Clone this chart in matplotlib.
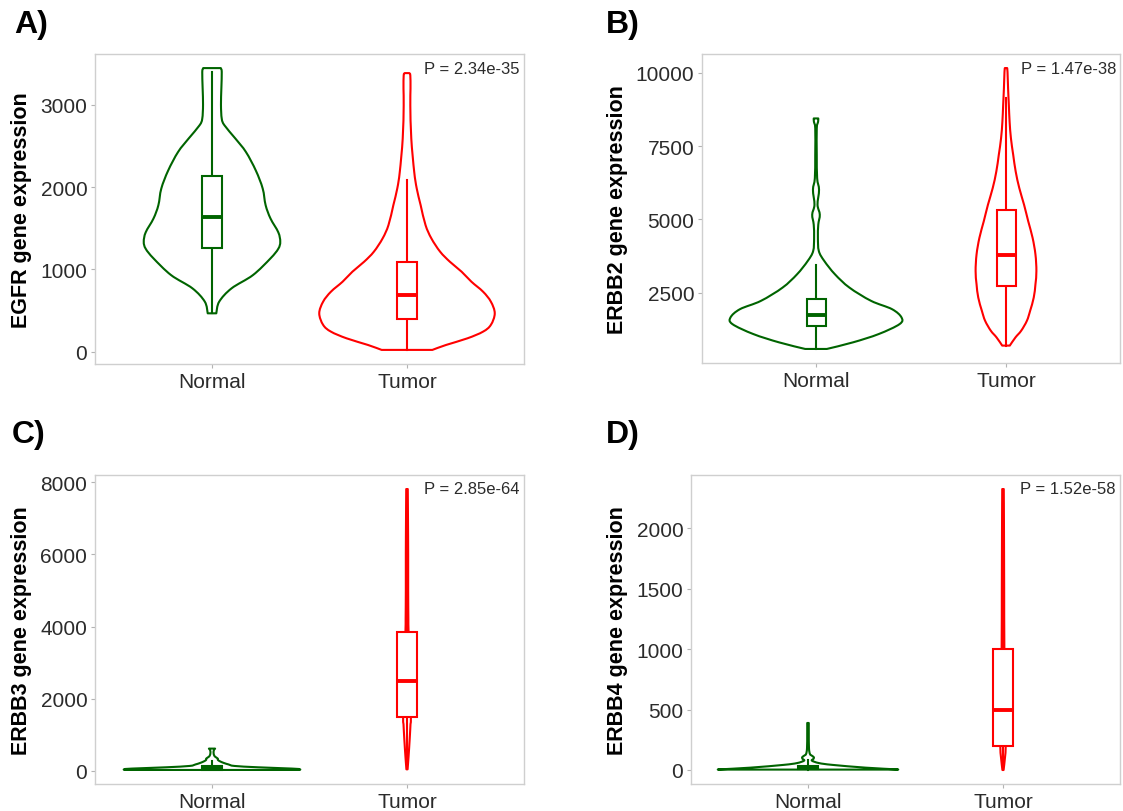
import numpy as np
import matplotlib
matplotlib.use("Agg")
import matplotlib.pyplot as plt
from matplotlib.patches import Rectangle, PathPatch
from matplotlib.path import Path

plt.rcParams["font.family"] = ["Liberation Sans", "DejaVu Sans"]

GROUPS = ["Normal", "Tumor"]
COLORS = ["#006400", "#FF0000"]

# violin outlines: expression level -> half width (x units)
EGFR_N_Y = [465, 607, 768, 930, 1133, 1250, 1335, 1450, 1618, 1780, 1982, 2200,
            2427, 2590, 2751, 2832, 3000, 3200, 3400, 3447]
EGFR_N_W = [0.022, 0.037, 0.10, 0.21, 0.30, 0.34, 0.35, 0.34, 0.30, 0.275, 0.26,
            0.225, 0.174, 0.12, 0.064, 0.05, 0.046, 0.048, 0.05, 0.045]
EGFR_T_Y = [20, 80, 161, 242, 324, 465, 607, 728, 850, 971, 1092, 1214, 1376,
            1538, 1780, 1982, 2185, 2589, 2993, 3196, 3358, 3386]
EGFR_T_W = [0.13, 0.20, 0.31, 0.39, 0.43, 0.45, 0.43, 0.39, 0.33, 0.28, 0.22, 0.17,
            0.125, 0.095, 0.07, 0.05, 0.037, 0.022, 0.017, 0.018, 0.017, 0.012]

ERBB2_N_Y = [574, 800, 1083, 1423, 1650, 1933, 2216, 2669, 3122, 3575, 3915, 4368,
             4821, 5161, 5500, 6010, 6407, 7200, 8106, 8333, 8446]
ERBB2_N_W = [0.057, 0.195, 0.33, 0.44, 0.45, 0.40, 0.29, 0.176, 0.10, 0.044, 0.015,
             0.01, 0.012, 0.02, 0.008, 0.016, 0.006, 0.004, 0.004, 0.011, 0.012]
ERBB2_T_Y = [689, 970, 1197, 1537, 1876, 2329, 2782, 3235, 3801, 4368, 4934, 5500,
             6067, 6633, 7200, 7766, 8333, 8899, 9465, 10031, 10167]
ERBB2_T_W = [0.02, 0.05, 0.08, 0.11, 0.127, 0.146, 0.155, 0.16, 0.155, 0.14, 0.117,
             0.095, 0.07, 0.051, 0.038, 0.026, 0.019, 0.015, 0.011, 0.008, 0.006]

ERBB3_N_Y = [28, 47, 66, 102, 139, 180, 223, 270, 308, 340, 380, 420, 500, 580, 619]
ERBB3_N_W = [0.45, 0.45, 0.41, 0.235, 0.115, 0.085, 0.06, 0.04, 0.03, 0.03, 0.02,
             0.012, 0.008, 0.01, 0.016]
ERBB3_T_Y = [46, 400, 900, 1300, 1505, 2500, 3848, 4200, 5000, 6000, 7000, 7806]
ERBB3_T_W = [0.003, 0.008, 0.014, 0.018, 0.02, 0.015, 0.008, 0.007, 0.006, 0.006,
             0.005, 0.004]

ERBB4_N_Y = [3, 5, 19, 42, 57, 77, 92, 105, 118, 132, 180, 300, 389]
ERBB4_N_W = [0.45, 0.45, 0.296, 0.125, 0.056, 0.02, 0.028, 0.03, 0.02, 0.01, 0.005,
             0.004, 0.004]
ERBB4_T_Y = [0, 100, 200, 400, 1000, 1500, 2000, 2326]
ERBB4_T_W = [0.003, 0.01, 0.014, 0.012, 0.007, 0.006, 0.005, 0.004]

# box stats: whisker low, q1, median, q3, whisker high
EGFR_BOX = [[465, 1254, 1634, 2131, 3398], [20, 396, 687, 1084, 2091]]
ERBB2_BOX = [[574, 1368, 1742, 2296, 3428], [689, 2727, 3791, 5310, 9150]]
ERBB3_BOX = [[28, 30, 70, 130, 280], [46, 1505, 2491, 3848, 7360]]
ERBB4_BOX = [[3, 5, 15, 36, 80], [0, 201, 497, 1001, 2200]]

GENES = ["EGFR", "ERBB2", "ERBB3", "ERBB4"]
PVALUES = ["2.34e-35", "1.47e-38", "2.85e-64", "1.52e-58"]
YTICKS = [[0, 1000, 2000, 3000], [2500, 5000, 7500, 10000],
          [0, 2000, 4000, 6000, 8000], [0, 500, 1000, 1500, 2000]]
LETTERS = ["A)", "B)", "C)", "D)"]

W, H = 1123, 812
# axes boxes in pixels: left, right, top, bottom
BOXES_PX = [(95, 524, 55, 365), (702, 1120, 55, 364),
            (95, 524, 476, 785), (691, 1120, 476, 785)]
YLAB_X = [22, 617, 22, 617]
LETTER_XY = [(14, 33), (606, 33), (12, 443), (606, 443)]

violins = [
    [(EGFR_N_Y, EGFR_N_W), (EGFR_T_Y, EGFR_T_W)],
    [(ERBB2_N_Y, ERBB2_N_W), (ERBB2_T_Y, ERBB2_T_W)],
    [(ERBB3_N_Y, ERBB3_N_W), (ERBB3_T_Y, ERBB3_T_W)],
    [(ERBB4_N_Y, ERBB4_N_W), (ERBB4_T_Y, ERBB4_T_W)],
]
boxstats = [EGFR_BOX, ERBB2_BOX, ERBB3_BOX, ERBB4_BOX]


def bezier_side(pts):
    """Catmull-Rom style cubic segments through the outline points."""
    P = np.vstack([pts[0], pts, pts[-1]])
    verts = []
    for i in range(1, len(P) - 2):
        c1 = P[i] + (P[i + 1] - P[i - 1]) / 6
        c2 = P[i + 1] - (P[i + 2] - P[i]) / 6
        verts += [c1, c2, P[i + 1]]
    return verts


def violin_patch(x, yv, hw, col):
    right = np.column_stack([x + hw, yv])
    left = np.column_stack([x - hw, yv])[::-1]
    verts = [right[0]] + bezier_side(right) + [left[0]] + bezier_side(left) + [right[0]]
    n = len(right) - 1
    codes = ([Path.MOVETO] + [Path.CURVE4] * (3 * n) + [Path.LINETO]
             + [Path.CURVE4] * (3 * n) + [Path.CLOSEPOLY])
    return PathPatch(Path(verts, codes), facecolor="none", edgecolor=col,
                     lw=1.5, joinstyle="round", zorder=2)


fig = plt.figure(figsize=(W / 100, H / 100), dpi=100, facecolor="white")

for k in range(4):
    l, r, t, b = BOXES_PX[k]
    ax = fig.add_axes([l / W, 1 - b / H, (r - l) / W, (b - t) / H])

    allv = []
    for i, ((yv, hw), st, col) in enumerate(zip(violins[k], boxstats[k], COLORS)):
        x = i + 1
        yv = np.asarray(yv, float)
        hw = np.asarray(hw, float)
        allv += [yv.min(), yv.max()]
        ax.add_patch(violin_patch(x, yv, hw, col))

        lo, q1, med, q3, hi = st
        ax.plot([x, x], [lo, q1], color=col, lw=1.5, zorder=3)
        ax.plot([x, x], [q3, hi], color=col, lw=1.5, zorder=3)
        ax.add_patch(Rectangle((x - 0.05, q1), 0.1, q3 - q1, facecolor="white",
                               edgecolor=col, lw=1.5, zorder=4))
        ax.plot([x - 0.05, x + 0.05], [med, med], color=col, lw=2.8,
                solid_capstyle="butt", zorder=5)

    lo, hi = min(allv), max(allv)
    pad = 0.05 * (hi - lo)
    ax.set_ylim(lo - pad, hi + pad)
    ax.set_xlim(0.4, 2.6)
    ax.set_xticks([1, 2])
    ax.set_xticklabels(GROUPS)
    ax.set_yticks(YTICKS[k])
    ax.tick_params(length=3, width=0.8, color="#B3B3B3", labelsize=15,
                   labelcolor="#2b2b2b", pad=2.5)
    for s in ax.spines.values():
        s.set_color("#CFCFCF")
        s.set_linewidth(1.0)

    fig.text(YLAB_X[k] / W, 1 - (t + b) / 2 / H, f"{GENES[k]} gene expression",
             rotation=90, ha="center", va="center", fontsize=15.5,
             fontweight="bold", color="black")
    fig.text((r - 4) / W, 1 - (t + 14) / H, f"P = {PVALUES[k]}",
             ha="right", va="center", fontsize=12, color="#2b2b2b")
    lx, ly = LETTER_XY[k]
    fig.text(lx / W, 1 - ly / H, LETTERS[k], ha="left", va="baseline",
             fontsize=23, fontweight="bold", color="black")

fig.savefig("out.png", dpi=100, facecolor="white")
